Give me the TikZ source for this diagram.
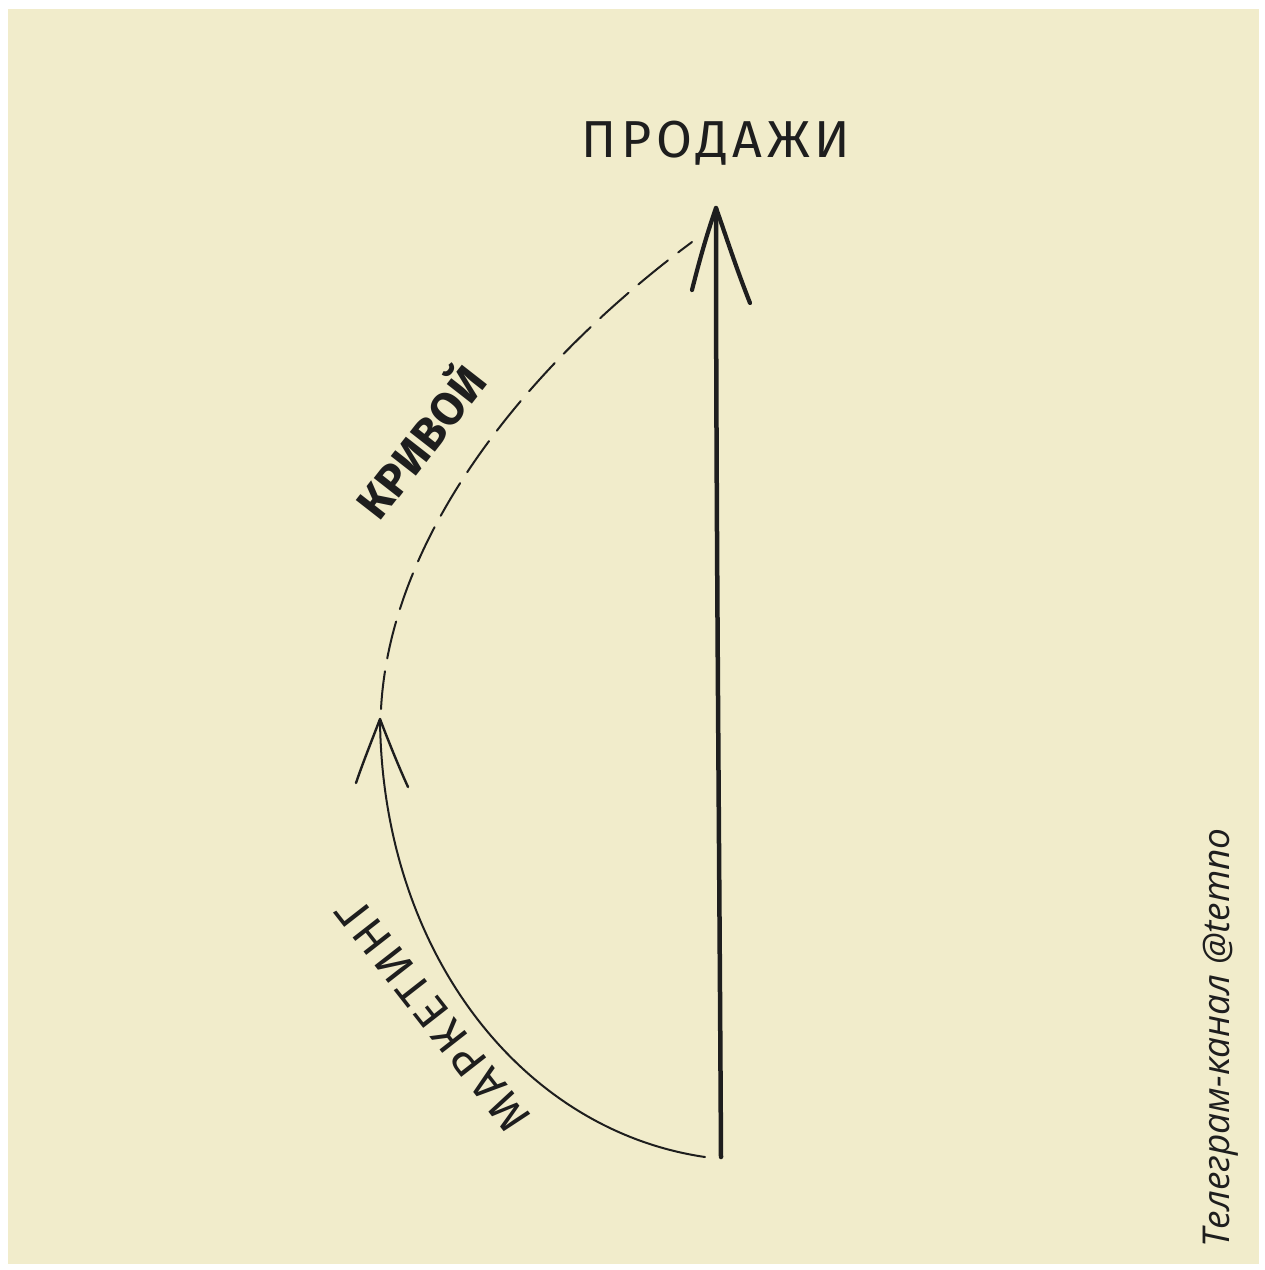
\documentclass[tikz,border=0pt]{standalone}
\usepackage{fontspec}
\setmainfont{Fira Sans}
\newfontfamily\spaced{Fira Sans}[LetterSpace=9]
\newfontfamily\wm{Open Sans}
\definecolor{paper}{HTML}{F1ECCB}
\definecolor{ink}{HTML}{1E1E1E}
\begin{document}
\begin{tikzpicture}[x=1pt,y=-1pt,
  pen/.style={draw=ink, line cap=round, line join=round},
  hand/.style={text=ink, inner sep=0pt}]
\useasboundingbox (0,0) rectangle (1265,1270);
\fill[white] (0,0) rectangle (1265,1270);
\fill[paper] (8,9) rectangle (1259,1264);

% labels
\node[hand, font=\spaced\fontsize{52}{52}\selectfont] (sales) at (716,143) {ПРОДАЖИ};
\node[hand, font=\fontsize{46}{46}\selectfont\bfseries, rotate=52] (crooked) at (418,440) {КРИВОЙ};
\node[hand, font=\spaced\fontsize{46}{46}\selectfont, rotate=128] (mkt) at (433,1015) {МАРКЕТИНГ};
\node[hand, font=\wm\itshape\fontsize{37}{37}\selectfont, rotate=90] (wm) at (1221,1038) {Телеграм-канал @temno};

% key points
\coordinate (base) at (721,1157);
\coordinate (tip) at (716,208);
\coordinate (tipL) at (692,290);
\coordinate (tipR) at (750,303);
\coordinate (cstart) at (705,1157);
\coordinate (ctip) at (380,719);
\coordinate (ctipL) at (356,783);
\coordinate (ctipR) at (408,787);
\coordinate (dstart) at (381,709);
\coordinate (dend) at (692,242);

% main vertical arrow
\draw[pen, line width=4.5pt] (base) .. controls (719,800) and (716,500) .. (tip);
\draw[pen, line width=4.2pt] (tipL) .. controls (702,250) and (710,225) .. (tip)
  .. controls (724,230) and (735,265) .. (tipR);

% marketing curve
\draw[pen, line width=2pt] (cstart) .. controls (520,1130) and (382,950) .. (ctip);
\draw[pen, line width=2.4pt] (ctipL) .. controls (362,765) and (372,740) .. (ctip)
  .. controls (388,740) and (398,765) .. (ctipR);

% dashed curve
\draw[pen, line width=2pt, dash pattern=on 38pt off 13pt] (dstart) .. controls (390,540) and (520,370) .. (dend);
\end{tikzpicture}
\end{document}
